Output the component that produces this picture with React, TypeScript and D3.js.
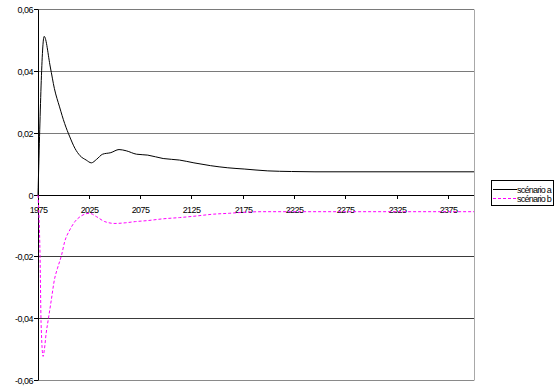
import React from "react";
import * as d3 from "d3";

const yearsA = [1975, 1981, 1987, 1991, 1996, 2001, 2006, 2011, 2016, 2022, 2027, 2032, 2038, 2046, 2054, 2061, 2071, 2082, 2097, 2113, 2127, 2143, 2160, 2176, 2199, 2222, 2245, 2400];
const valuesA = [0, 0.0513, 0.0414, 0.0344, 0.0285, 0.0231, 0.0188, 0.0151, 0.0127, 0.0113, 0.0104, 0.0115, 0.0132, 0.0137, 0.0147, 0.0143, 0.0132, 0.0129, 0.0118, 0.0113, 0.0104, 0.0095, 0.0088, 0.0084, 0.0078, 0.0076, 0.0075, 0.0075];

const yearsB = [1975, 1977, 1978, 1980, 1981, 1983, 1985, 1988, 1991, 1994, 1998, 2001, 2006, 2011, 2017, 2025, 2032, 2040, 2050, 2060, 2070, 2081, 2097, 2113, 2129, 2146, 2162, 2175, 2194, 2400];
const valuesB = [0, -0.0199, -0.0413, -0.0522, -0.0505, -0.0446, -0.0403, -0.0339, -0.0274, -0.0237, -0.0194, -0.0151, -0.0113, -0.0086, -0.0068, -0.0059, -0.0070, -0.0086, -0.0092, -0.0090, -0.0086, -0.0083, -0.0077, -0.0073, -0.0068, -0.0062, -0.0059, -0.0056, -0.0054, -0.0054];

const xTicks = [1975, 2025, 2075, 2125, 2175, 2225, 2275, 2325, 2375];
const yTicks = [0.06, 0.04, 0.02, 0, -0.02, -0.04, -0.06];
const yTickLabels = ["0,06", "0,04", "0,02", "0", "-0,02", "-0,04", "-0,06"];
const seriesNames = ["scénario a", "scénario b"];

const FONT = "'Liberation Sans', Arial, sans-serif";

export default function App() {
  const x = d3.scaleLinear().domain([1975, 2400]).range([38, 474]);
  const y = d3.scaleLinear().domain([-0.06, 0.06]).range([380.5, 9.5]);
  const crisp = (v: number) => Math.round(v - 0.5) + 0.5;

  const line = d3
    .line<[number, number]>()
    .x((d) => x(d[0]))
    .y((d) => y(d[1]))
    .curve(d3.curveMonotoneX);

  const dataA: [number, number][] = yearsA.map((yr, i) => [yr, valuesA[i]]);
  const dataB: [number, number][] = yearsB.map((yr, i) => [yr, valuesB[i]]);

  const x0 = 38;
  const x1 = 474;

  return (
    <div style={{ position: "fixed", left: 0, top: 0 }}>
      <svg width={556} height={389} style={{ display: "block", background: "#fff" }}>
        {/* gridlines */}
        {yTicks.map((t) => {
          if (t === 0) return null;
          const yy = crisp(y(t));
          const col = t > 0 ? "#7a7a7a" : t === -0.06 ? "#8a8a8a" : "#3a3a3a";
          return <line key={"g" + t} x1={x0} x2={x1} y1={yy} y2={yy} stroke={col} strokeWidth={1} />;
        })}
        {/* right border */}
        <line x1={x1 + 0.5} x2={x1 + 0.5} y1={crisp(y(0.06))} y2={crisp(y(-0.06))} stroke="#a8a8a8" strokeWidth={1} />

        {/* y axis */}
        <line x1={x0 + 0.5} x2={x0 + 0.5} y1={crisp(y(0.06))} y2={crisp(y(-0.06))} stroke="#000" strokeWidth={1} />
        {yTicks.map((t, i) => {
          const yy = crisp(y(t));
          return (
            <g key={"yt" + t}>
              <line x1={x0 - 4} x2={x0} y1={yy} y2={yy} stroke="#000" strokeWidth={1} />
              <text
                x={33}
                y={yy + 3}
                textAnchor="end"
                fontFamily={FONT}
                fontSize={9}
                letterSpacing={-0.5}
                fill="#000"
              >
                {yTickLabels[i]}
              </text>
            </g>
          );
        })}

        {/* x axis */}
        <line x1={x0} x2={x1} y1={crisp(y(0))} y2={crisp(y(0))} stroke="#000" strokeWidth={1} />
        {xTicks.map((t) => {
          const xx = crisp(x(t));
          return (
            <g key={"xt" + t}>
              <line x1={xx} x2={xx} y1={y(0)} y2={y(0) + 4} stroke="#000" strokeWidth={1} />
              <text
                x={xx}
                y={y(0) + 18}
                textAnchor="middle"
                fontFamily={FONT}
                fontSize={9}
                letterSpacing={-0.6}
                fill="#000"
              >
                {t}
              </text>
            </g>
          );
        })}

        {/* series */}
        <path d={line(dataB) || ""} fill="none" stroke="#ff00ff" strokeWidth={1} strokeDasharray="3,2" />
        <path d={line(dataA) || ""} fill="none" stroke="#000" strokeWidth={1} />

        {/* legend */}
        <rect x={491.5} y={180.5} width={62} height={25} fill="#fff" stroke="#000" strokeWidth={1} />
        <line x1={493} x2={517} y1={189.5} y2={189.5} stroke="#000" strokeWidth={1} />
        <line x1={493} x2={517} y1={198.5} y2={198.5} stroke="#ff00ff" strokeWidth={1} strokeDasharray="3,2" />
        {seriesNames.map((n, i) => (
          <text
            key={n}
            x={517}
            y={192.5 + i * 9}
            fontFamily={FONT}
            fontSize={9}
            letterSpacing={-0.75}
            fill="#000"
          >
            {n}
          </text>
        ))}
      </svg>
    </div>
  );
}
